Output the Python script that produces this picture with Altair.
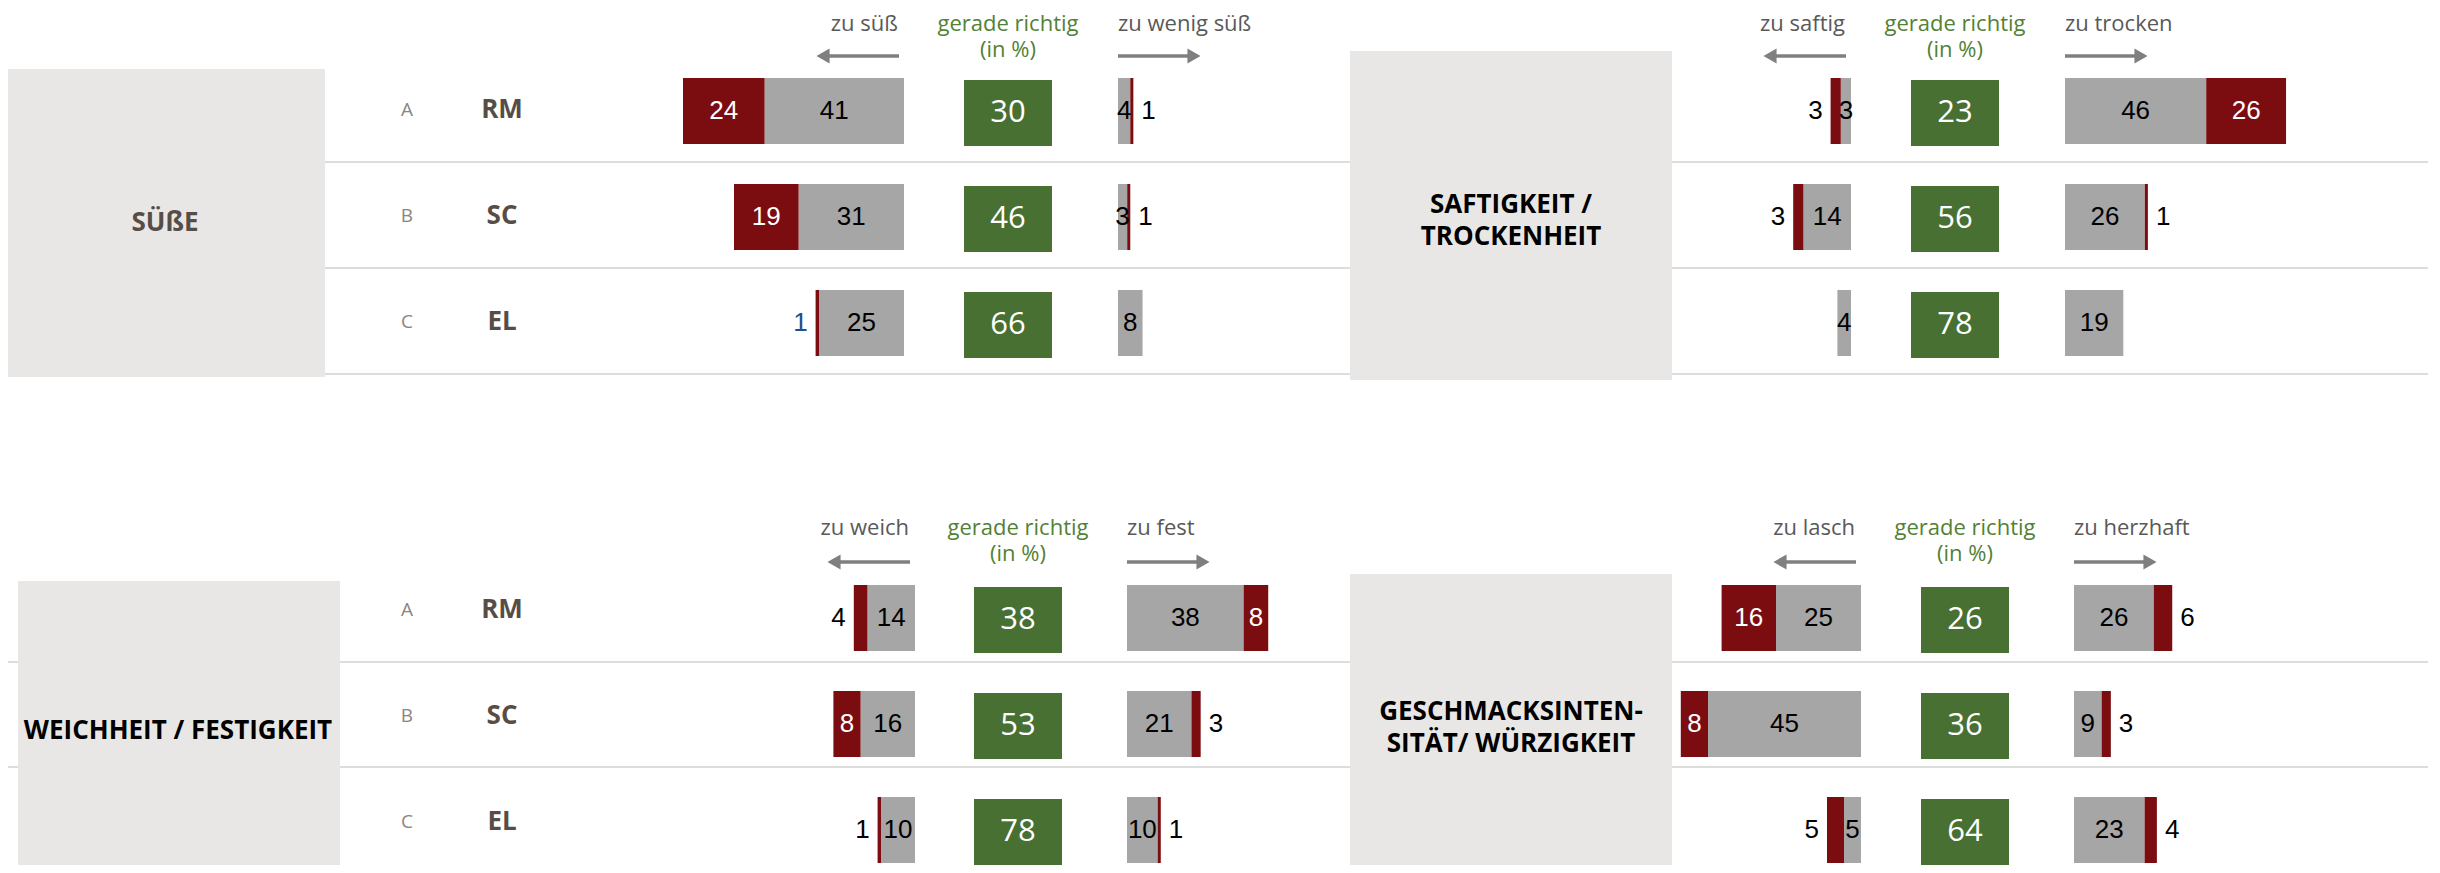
import altair as alt
import pandas as pd

# ---------------- data ----------------
products = ["RM", "SC", "EL"]
letters = ["A", "B", "C"]
panel_titles = ["SÜßE", "SAFTIGKEIT /\nTROCKENHEIT", "WEICHHEIT / FESTIGKEIT",
                "GESCHMACKSINTEN-\nSITÄT/ WÜRZIGKEIT"]
left_labels = ["zu süß", "zu saftig", "zu weich", "zu lasch"]
right_labels = ["zu wenig süß", "zu trocken", "zu fest", "zu herzhaft"]
middle_label = ["gerade richtig", "(in %)"]

left_strong = [[24, 19, 1], [3, 3, 0], [4, 8, 1], [16, 8, 5]]
left_weak = [[41, 31, 25], [3, 14, 4], [14, 16, 10], [25, 45, 5]]
just_right = [[30, 46, 66], [23, 56, 78], [38, 53, 78], [26, 36, 64]]
right_weak = [[4, 3, 8], [46, 26, 19], [38, 21, 10], [26, 9, 23]]
right_strong = [[1, 1, 0], [26, 1, 0], [8, 3, 1], [6, 3, 4]]

# ---------------- styles / layout ----------------
M = 8
W, H = 2424, 857
KL, KR = 3.4, 3.07
RED = "#7b0d11"
GREY = "#a6a6a6"
GREEN = "#477032"
BOX = "#e8e7e5"
RULE = "#dddddd"
HEAD_GREY = "#595959"
HEAD_GREEN = "#538135"
ARROW = "#7f7f7f"
NAME = "#574d47"
LETTER = "#8c8580"
SANS = "Open Sans"
NUM = "Liberation Sans"

LAYOUT = [
    dict(box=(4, 325, 69, 377), title=(165, 223), tcolor=NAME, names=True,
         lbase=904, gc=1008, rbase=1118, head_y=31, arrow_y=56, bar_top=78, name_dy=-1),
    dict(box=(1350, 1672, 51, 380), title=(1511, 205), tcolor="#000000", names=False,
         lbase=1851, gc=1955, rbase=2065, head_y=31, arrow_y=56, bar_top=78, name_dy=-1),
    dict(box=(18, 340, 581, 873), title=(178, 731), tcolor="#000000", names=True,
         lbase=915, gc=1018, rbase=1127, head_y=535, arrow_y=562, bar_top=585, name_dy=-8),
    dict(box=(1350, 1672, 574, 873), title=(1511, 712), tcolor="#000000", names=False,
         lbase=1861, gc=1965, rbase=2074, head_y=535, arrow_y=562, bar_top=585, name_dy=-8),
]
LINES_Y = [162, 268, 374, 662, 767, 872]
BLUE_LABEL = (0, "EL", "left")


def px(v):
    return v - M


# segments table
recs = []
for i in range(4):
    for j, p in enumerate(products):
        for side, weak, strong in (("left", left_weak[i][j], left_strong[i][j]),
                                   ("right", right_weak[i][j], right_strong[i][j])):
            recs.append(dict(panel=i, side=side, product=p, seg="weak", value=weak,
                             start=0, end=weak))
            recs.append(dict(panel=i, side=side, product=p, seg="strong", value=strong,
                             start=weak, end=weak + strong))
seg = pd.DataFrame(recs)
seg = seg[seg["value"] > 0].copy()
seg["mid"] = (seg["start"] + seg["end"]) / 2
seg["inside"] = (seg["seg"] == "weak") | (seg["value"] >= 8)
seg["tone"] = "normal"
seg.loc[(seg["panel"] == BLUE_LABEL[0]) & (seg["product"] == BLUE_LABEL[1]) &
        (seg["side"] == BLUE_LABEL[2]) & (seg["seg"] == "strong"), "tone"] = "blue"

one = pd.DataFrame({"k": [0]})
layers = []

# row separator lines
rule_df = pd.DataFrame({"y": [px(v) for v in LINES_Y]})
layers.append(alt.Chart(rule_df).mark_rule(color=RULE, strokeWidth=2).encode(
    x=alt.value(px(6)), x2=alt.value(px(2428)), y=alt.Y("y:Q", scale=None)))

for i, L in enumerate(LAYOUT):
    top = L["bar_top"]
    ys = alt.Scale(domain=products, range=[px(top - 20), px(top - 20 + 318)],
                   paddingInner=40 / 106, paddingOuter=20 / 106)
    y_enc = alt.Y("product:N", scale=ys, axis=None)

    # grey label box and title
    bx0, bx1, by0, by1 = L["box"]
    layers.append(alt.Chart(one).mark_rect(color=BOX).encode(
        x=alt.value(px(bx0)), x2=alt.value(px(bx1)),
        y=alt.value(px(by0)), y2=alt.value(px(min(by1, H + M)))))
    tx, ty = L["title"]
    layers.append(alt.Chart(pd.DataFrame({"t": [panel_titles[i]]})).mark_text(
        font=SANS, fontWeight="bold", fontSize=26, color=L["tcolor"], align="center",
        baseline="middle", lineBreak="\n", lineHeight=32).encode(
        x=alt.value(px(tx)), y=alt.value(px(ty)), text="t:N"))

    # headers
    lb, rb, gc = L["lbase"], L["rbase"], L["gc"]
    hy, ay = L["head_y"], L["arrow_y"]
    layers.append(alt.Chart(pd.DataFrame({"t": [left_labels[i]]})).mark_text(
        font=SANS, fontSize=22, color=HEAD_GREY, align="right", baseline="alphabetic").encode(
        x=alt.value(px(lb - 6)), y=alt.value(px(hy)), text="t:N"))
    layers.append(alt.Chart(pd.DataFrame({"t": [right_labels[i]]})).mark_text(
        font=SANS, fontSize=22, color=HEAD_GREY, align="left", baseline="alphabetic").encode(
        x=alt.value(px(rb)), y=alt.value(px(hy)), text="t:N"))
    for li, line in enumerate(middle_label):
        layers.append(alt.Chart(pd.DataFrame({"t": [line]})).mark_text(
            font=SANS, fontSize=22, color=HEAD_GREEN, align="center", baseline="alphabetic").encode(
            x=alt.value(px(gc)), y=alt.value(px(hy + 26 * li)), text="t:N"))
    # arrows
    layers.append(alt.Chart(one).mark_rule(color=ARROW, strokeWidth=3.5).encode(
        x=alt.value(px(lb - 80)), x2=alt.value(px(lb - 5)), y=alt.value(px(ay))))
    layers.append(alt.Chart(one).mark_rule(color=ARROW, strokeWidth=3.5).encode(
        x=alt.value(px(rb)), x2=alt.value(px(rb + 75)), y=alt.value(px(ay))))
    layers.append(alt.Chart(one).mark_point(shape="triangle-left", filled=True, size=230,
                                            color=ARROW, opacity=1).encode(
        x=alt.value(px(lb - 81)), y=alt.value(px(ay))))
    layers.append(alt.Chart(one).mark_point(shape="triangle-right", filled=True, size=230,
                                            color=ARROW, opacity=1).encode(
        x=alt.value(px(rb + 76)), y=alt.value(px(ay))))

    # letters and product names
    if L["names"]:
        t = pd.DataFrame({"product": products, "letter": letters})
        layers.append(alt.Chart(t).mark_text(
            font=SANS, fontSize=19, color=LETTER, baseline="middle", align="center",
            yOffset=L["name_dy"]).encode(x=alt.value(px(407)), y=y_enc, text="letter:N"))
        layers.append(alt.Chart(t).mark_text(
            font=SANS, fontWeight="bold", fontSize=26, color=NAME, baseline="middle",
            align="center", yOffset=L["name_dy"]).encode(
            x=alt.value(px(502)), y=y_enc, text="product:N"))

    # green "just right" boxes
    g = pd.DataFrame({"product": products, "value": just_right[i]})
    layers.append(alt.Chart(g).mark_rect(color=GREEN, yOffset=2).encode(
        x=alt.value(px(gc - 44)), x2=alt.value(px(gc + 44)), y=y_enc))
    layers.append(alt.Chart(g).mark_text(
        font=SANS, fontSize=31, color="#ffffff", baseline="middle", align="center",
        yOffset=2).encode(x=alt.value(px(gc)), y=y_enc, text="value:Q"))

    # diverging bars
    for side in ("left", "right"):
        if side == "left":
            xs = alt.Scale(domain=[0, 100], range=[px(lb), px(lb) - 100 * KL])
        else:
            xs = alt.Scale(domain=[0, 100], range=[px(rb), px(rb) + 100 * KR])
        d = seg[(seg["panel"] == i) & (seg["side"] == side)]
        layers.append(alt.Chart(d).mark_bar().encode(
            x=alt.X("start:Q", scale=xs, axis=None), x2="end:Q", y=y_enc,
            color=alt.Color("seg:N", scale=alt.Scale(domain=["weak", "strong"],
                                                     range=[GREY, RED]), legend=None)))
        din = d[d["inside"]]
        layers.append(alt.Chart(din).mark_text(
            font=NUM, fontSize=26, baseline="middle", align="center").encode(
            x=alt.X("mid:Q", scale=xs, axis=None), y=y_enc, text="value:Q",
            color=alt.Color("seg:N", scale=alt.Scale(domain=["weak", "strong"],
                                                     range=["#000000", "#ffffff"]),
                            legend=None)))
        dout = d[~d["inside"]]
        if len(dout):
            layers.append(alt.Chart(dout).mark_text(
                font=NUM, fontSize=26, baseline="middle",
                align="right" if side == "left" else "left",
                dx=-8 if side == "left" else 8).encode(
                x=alt.X("end:Q", scale=xs, axis=None), y=y_enc, text="value:Q",
                color=alt.Color("tone:N", scale=alt.Scale(domain=["normal", "blue"],
                                                          range=["#000000", "#1f4e8c"]),
                                legend=None)))

chart = alt.layer(*layers).resolve_scale(
    x="independent", y="independent", color="independent"
).properties(
    width=W, height=H, padding=0,
    autosize=alt.AutoSizeParams(type="none"),
).configure_view(stroke=None)

chart.save("out.html", embed_options={"renderer": "svg", "actions": False})
